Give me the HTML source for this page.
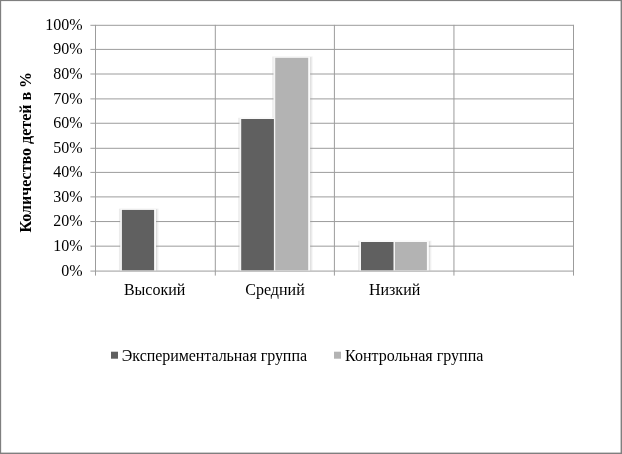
<!DOCTYPE html>
<html lang="ru">
<head>
<meta charset="utf-8">
<title>Диаграмма</title>
<style>
html,body{margin:0;padding:0;background:#fff;}
body{width:622px;height:454px;overflow:hidden;}
svg{display:block;}
text{font-family:"Liberation Serif","DejaVu Serif",serif;font-size:16px;fill:#000;}
.g{stroke:#9c9c9c;stroke-width:1;}
</style>
</head>
<body>
<svg width="622" height="454" viewBox="0 0 622 454">
  <rect x="0" y="0" width="622" height="454" fill="#fff"/>
  <!-- outer frame -->
  <g fill="#7f7f7f">
    <rect x="0" y="0" width="622" height="1.1"/>
    <rect x="0" y="0" width="1.15" height="454"/>
    <rect x="620.6" y="0" width="1.4" height="454"/>
    <rect x="0" y="452.6" width="622" height="1.4"/>
  </g>
  <!-- bar shadows -->
  <g>
    <rect x="118.90" y="208.50" width="39.80" height="61.80" fill="#f5f5f5"/>
    <rect x="119.10" y="208.90" width="38.60" height="61.40" fill="#ebebeb"/>
    <rect x="156.00" y="209.30" width="1.0" height="61.00" fill="#dddddd"/>
    <rect x="238.20" y="117.60" width="40.30" height="152.70" fill="#f5f5f5"/>
    <rect x="238.40" y="118.00" width="39.10" height="152.30" fill="#ebebeb"/>
    <rect x="275.80" y="118.40" width="1.0" height="151.90" fill="#dddddd"/>
    <rect x="272.20" y="56.40" width="40.60" height="213.90" fill="#f5f5f5"/>
    <rect x="272.40" y="56.80" width="39.40" height="213.50" fill="#ebebeb"/>
    <rect x="310.10" y="57.20" width="1.0" height="213.10" fill="#dddddd"/>
    <rect x="358.00" y="240.60" width="73.50" height="29.70" fill="#f5f5f5"/>
    <rect x="358.20" y="241.00" width="72.30" height="29.30" fill="#ebebeb"/>
    <rect x="428.80" y="241.40" width="1.0" height="28.90" fill="#dddddd"/>
  </g>
  <!-- horizontal gridlines -->
  <g class="g">
    <line x1="90.4" x2="574" y1="25.3" y2="25.3"/>
    <line x1="90.4" x2="574" y1="49.4" y2="49.4"/>
    <line x1="90.4" x2="574" y1="74.0" y2="74.0"/>
    <line x1="90.4" x2="574" y1="98.9" y2="98.9"/>
    <line x1="90.4" x2="574" y1="123.25" y2="123.25"/>
    <line x1="90.4" x2="574" y1="148.3" y2="148.3"/>
    <line x1="90.4" x2="574" y1="172.4" y2="172.4"/>
    <line x1="90.4" x2="574" y1="196.9" y2="196.9"/>
    <line x1="90.4" x2="574" y1="221.56" y2="221.56"/>
    <line x1="90.4" x2="574" y1="246.16" y2="246.16"/>
    <line x1="90.4" x2="574" y1="271.08" y2="271.08"/>
  </g>
  <!-- vertical lines -->
  <g class="g">
    <line x1="95.5" x2="95.5" y1="24.9" y2="275.6"/>
    <line x1="215.3" x2="215.3" y1="24.9" y2="275.6"/>
    <line x1="334.4" x2="334.4" y1="24.9" y2="275.6"/>
    <line x1="453.95" x2="453.95" y1="24.9" y2="275.6"/>
    <line x1="573.5" x2="573.5" y1="24.9" y2="275.6"/>
  </g>
  <!-- bars -->
  <g>
    <rect x="120.40" y="209.00" width="35.60" height="61.30" fill="#fbfbfb"/>
    <rect x="120.40" y="209.40" width="0.8" height="60.90" fill="#ededed"/>
    <rect x="239.70" y="118.10" width="36.10" height="152.20" fill="#fbfbfb"/>
    <rect x="239.70" y="118.50" width="0.8" height="151.80" fill="#ededed"/>
    <rect x="273.70" y="56.90" width="36.40" height="213.40" fill="#fbfbfb"/>
    <rect x="273.70" y="57.30" width="0.8" height="213.00" fill="#ededed"/>
    <rect x="359.50" y="241.10" width="69.30" height="29.20" fill="#fbfbfb"/>
    <rect x="359.50" y="241.50" width="0.8" height="28.80" fill="#ededed"/>
    <rect x="121.9" y="209.9" width="32.2" height="60.40" fill="#606060"/>
    <rect x="241.2" y="119.0" width="32.7" height="151.30" fill="#606060"/>
    <rect x="275.2" y="57.8" width="33.0" height="212.50" fill="#b3b3b3"/>
    <rect x="361.0" y="242.0" width="32.5" height="28.30" fill="#606060"/>
    <rect x="394.9" y="242.0" width="32.0" height="28.30" fill="#b3b3b3"/>
  </g>
  <!-- y labels -->
  <g text-anchor="end">
    <text x="82.6" y="30.20">100%</text>
    <text x="82.6" y="54.30">90%</text>
    <text x="82.6" y="78.90">80%</text>
    <text x="82.6" y="103.80">70%</text>
    <text x="82.6" y="128.15">60%</text>
    <text x="82.6" y="153.20">50%</text>
    <text x="82.6" y="177.30">40%</text>
    <text x="82.6" y="201.80">30%</text>
    <text x="82.6" y="226.46">20%</text>
    <text x="82.6" y="251.06">10%</text>
    <text x="82.6" y="275.98">0%</text>
  </g>
  <!-- y title -->
  <text transform="translate(30.9,232.5) rotate(-90)" font-weight="bold">Количество детей в %</text>

  <!-- x labels -->
  <g text-anchor="middle">
    <text x="154.6" y="295.3">Высокий</text>
    <text x="275" y="295.3">Средний</text>
    <text x="394.6" y="295.3">Низкий</text>
  </g>

  <!-- legend -->
  <rect x="111" y="351.7" width="7" height="7" fill="#606060"/>
  <text x="121.8" y="360.7" textLength="185.2" lengthAdjust="spacing">Экспериментальная группа</text>
  <rect x="334" y="351.7" width="7" height="7" fill="#b3b3b3"/>
  <text x="345" y="360.7">Контрольная группа</text>
</svg>
</body>
</html>
